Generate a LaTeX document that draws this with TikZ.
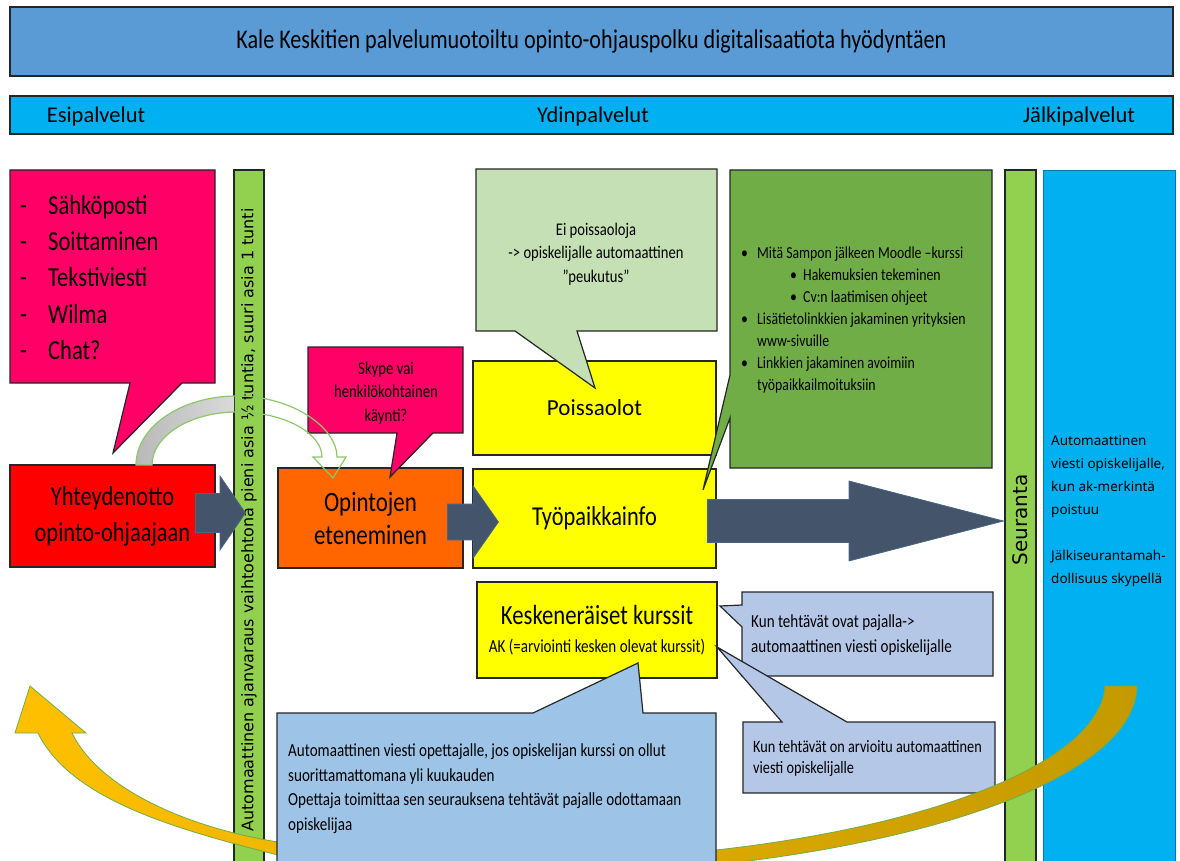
\documentclass[tikz,border=0pt]{standalone}
\usepackage{fontspec}
\setmainfont{Carlito}[FakeStretch=0.82]
\newfontfamily\plainfont{Carlito}
\newfontfamily\barfont{DejaVu Sans}
\newfontfamily\sidefont{Noto Sans}
\usetikzlibrary{shapes.arrows,positioning}

\definecolor{titleblue}{HTML}{5B9BD5}
\definecolor{headblue}{HTML}{00B0F0}
\definecolor{hotpink}{HTML}{FF0066}
\definecolor{bargreen}{HTML}{92D050}
\definecolor{contactred}{HTML}{FF0000}
\definecolor{progorange}{HTML}{FF6600}
\definecolor{boxyellow}{HTML}{FFFF00}
\definecolor{palegreen}{HTML}{C5E0B4}
\definecolor{leafgreen}{HTML}{70AD47}
\definecolor{arcgreen}{HTML}{8CC86A}
\definecolor{noteblue}{HTML}{9DC3E6}
\definecolor{lavblue}{HTML}{B4C7E7}
\definecolor{slate}{HTML}{44546A}
\definecolor{amber}{HTML}{FFC000}
\definecolor{darkgold}{HTML}{C49A00}
\definecolor{edge}{HTML}{262626}

\newcommand{\fsz}[2]{\fontsize{#1}{#2}\selectfont}

\begin{document}
\begin{tikzpicture}[x=1pt, y=-1pt,
    box/.style={draw=edge, line width=1.2pt, inner sep=0pt, align=center},
    bar/.style={box, fill=bargreen},
    bubble/.style={draw=edge, line width=1.2pt},
    phase/.style={font=\plainfont\fsz{22.5}{27}, anchor=base, inner sep=0pt},
    channel/.style={font=\fsz{27.5}{30}, anchor=base west, inner sep=0pt},
    jobline/.style={font=\fsz{16.8}{22}, anchor=base west, inner sep=0pt},
    note/.style={font=\fsz{18.4}{24.5}, anchor=north west, align=left, inner sep=0pt},
    flowarrow/.style={single arrow, fill=slate, draw=slate!75!titleblue, line width=0.8pt, inner xsep=0pt, anchor=tail}
]
\useasboundingbox (0,0) rectangle (1180,861);

% Title and phases
\node[box, fill=titleblue, minimum width=1163, minimum height=69, font=\fsz{27}{30}] (title) at (591.5,41.5) {Kale Keskitien palvelumuotoiltu opinto-ohjauspolku digitalisaatiota hyödyntäen};
\node[box, fill=headblue, minimum width=1163, minimum height=38] (phases) at (591.5,115) {};
\node[phase] (esi) at (96,123) {Esipalvelut};
\node[phase] (ydin) at (593,123) {Ydinpalvelut};
\node[phase] (jalki) at (1079,123) {Jälkipalvelut};

% Vertical bars
\node[bar, rotate=90, minimum width=700, minimum height=30, font=\barfont\fsz{16}{18}] (ajanvaraus) at (249,520) {Automaattinen ajanvaraus vaihtoehtona pieni asia ½ tuntia, suuri asia 1 tunti};
\node[bar, rotate=90, minimum width=700, minimum height=31, font=\barfont\fsz{20}{24}] (seuranta) at (1020.5,520) {Seuranta};
\node[box, fill=headblue, draw=headblue!70!black, line width=0.6pt, minimum width=132, minimum height=700, anchor=north west] (jalkipalvelut) at (1043,170) {};
\node[anchor=north west, align=left, inner sep=0pt, font=\sidefont\fsz{13.5}{23}] (afterinfo) at (1051,435) {Automaattinen\\viesti opiskelijalle,\\kun ak-merkintä\\poistuu\\[23pt]Jälkiseurantamah-\\dollisuus skypellä};

% Contact channels
\draw[bubble, fill=hotpink] (10,170) -- (215,170) -- (215,383) -- (182,383) -- (113,453) -- (130,383) -- (10,383) -- cycle;
\foreach \way [count=\i] in {Sähköposti, Soittaminen, Tekstiviesti, Wilma, Chat?} {
  \node[channel] (dash\i) at (20,178+36.3*\i) {-};
  \node[channel] (way\i) at (48,178+36.3*\i) {\way};
}

% Main steps
\node[box, fill=contactred, minimum width=205, minimum height=102, font=\fsz{27.4}{36}] (contact) at (112.5,516) {Yhteydenotto\\opinto-ohjaajaan};
\node[box, fill=progorange, minimum width=185, minimum height=100, font=\fsz{28}{33}] (progress) at (370.5,518) {Opintojen\\eteneminen};
\node[box, fill=boxyellow, minimum width=243, minimum height=94, font=\plainfont\fsz{23}{27}] (absence) at (594.5,408) {Poissaolot};
\node[box, fill=boxyellow, minimum width=243, minimum height=99, font=\fsz{27.3}{30}] (jobinfo) at (594.5,518.5) {Työpaikkainfo};
\node[box, fill=boxyellow, minimum width=240, minimum height=96] (unfinished) at (597,630) {};
\node[font=\fsz{27.7}{30}, anchor=base, inner sep=0pt] (unftitle) at (597,624) {Keskeneräiset kurssit};
\node[font=\fsz{18.4}{20}, anchor=base, inner sep=0pt] (unfnote) at (597,652) {AK (=arviointi kesken olevat kurssit)};

% Curved arrow from contact to progress
\begin{scope}
\clip (0,170) rectangle (234,480);
\shade[left color=gray!55, right color=white] (136,465) .. controls (136,427) and (181,396) .. (237,396)
  .. controls (293,396) and (337,428) .. (337,457) -- (346,457) -- (333,478) -- (313,457) -- (322,457)
  .. controls (322,433) and (284,412) .. (237,412) .. controls (190,412) and (152,436) .. (152,465) -- cycle;
\end{scope}

% Call-outs
\draw[bubble, fill=hotpink] (308,347) -- (463,347) -- (463,433) -- (433,433) -- (390,477) -- (397,433) -- (308,433) -- cycle;
\node[font=\fsz{18}{23.5}, align=center, inner sep=0pt] (skype) at (386,393) {Skype vai\\henkilökohtainen\\käynti?};
\draw[draw=arcgreen, line width=1.2pt] (136,465) .. controls (136,427) and (181,396) .. (237,396)
  .. controls (293,396) and (337,428) .. (337,457) -- (346,457) -- (333,478) -- (313,457) -- (322,457)
  .. controls (322,433) and (284,412) .. (237,412) .. controls (190,412) and (152,436) .. (152,465) -- cycle;

\draw[bubble, fill=palegreen] (476,169) -- (717,169) -- (717,331) -- (577,331) -- (595,388) -- (515,331) -- (476,331) -- cycle;
\node[font=\fsz{17.8}{23.5}, align=center, inner sep=0pt] (nogaps) at (596,254) {Ei poissaoloja\\-> opiskelijalle automaattinen\\”peukutus”};

\draw[bubble, fill=leafgreen] (730,170) -- (992,170) -- (992,468) -- (730,468) -- (730,418) -- (703,490) -- (730,375) -- cycle;
\foreach \tx/\txt [count=\k] in {757/Mitä Sampon jälkeen Moodle –kurssi, 803/Hakemuksien tekeminen, 803/Cv:n laatimisen ohjeet, 757/Lisätietolinkkien jakaminen yrityksien, 757/www-sivuille, 757/Linkkien jakaminen avoimiin, 757/työpaikkailmoituksiin}
  \node[jobline] (jobline\k) at (\tx,236+22*\k) {\txt};
\foreach \k/\bx in {1/741, 2/790, 3/790, 4/741, 6/741}
  \node[jobline] (bullet\k) at (\bx,236+22*\k) {•};

\draw[bubble, fill=lavblue] (742,592) -- (993,592) -- (993,676) -- (742,676) -- (742,627) -- (720,606) -- (742,605) -- cycle;
\node[note] (workshop) at (751,615) {Kun tehtävät ovat pajalla->\\automaattinen viesti opiskelijalle};

\draw[bubble, fill=lavblue] (743,722) -- (782,722) -- (717,647) -- (847,722) -- (995,722) -- (995,793) -- (743,793) -- cycle;
\node[note, font=\fsz{17.4}{21}] (graded) at (753,740) {Kun tehtävät on arvioitu automaattinen\\viesti opiskelijalle};

% Flow arrows
\node[flowarrow, inner ysep=19, minimum height=50, single arrow head extend=17.5, single arrow tip angle=111] (toprogress) at (195,513) {};
\node[flowarrow, inner ysep=17.5, minimum height=51, single arrow head extend=18, single arrow tip angle=110] (tojob) at (447,522) {};
\node[flowarrow, inner ysep=21, minimum height=296, single arrow head extend=18.5, single arrow tip angle=29] (tofollow) at (707,521) {};

% Return arrow
\begin{scope}
\clip (0,0) rectangle (1180,861);
\draw[draw=leafgreen, line width=0.8pt, left color=amber, right color=darkgold]
  (1105,686) -- (1137,686) .. controls (1135,770) and (960,835) .. (740,862) -- (720,900) -- (300,900) -- (278,855)
  .. controls (170,828) and (70,798) .. (38,733) -- (15,733) -- (30,686) -- (86,733) -- (72,733)
  .. controls (100,790) and (190,828) .. (278,842) -- (716,850) .. controls (940,825) and (1100,760) .. (1105,686) -- cycle;
\end{scope}

% Teacher note
\draw[bubble, fill=noteblue] (277,713) -- (533,713) -- (638,663) -- (643,713) -- (716,713) -- (716,870) -- (277,870) -- cycle;
\node[note] (teacher) at (288,744) {Automaattinen viesti opettajalle, jos opiskelijan kurssi on ollut\\suorittamattomana yli kuukauden\\Opettaja toimittaa sen seurauksena tehtävät pajalle odottamaan\\opiskelijaa};

\end{tikzpicture}
\end{document}
